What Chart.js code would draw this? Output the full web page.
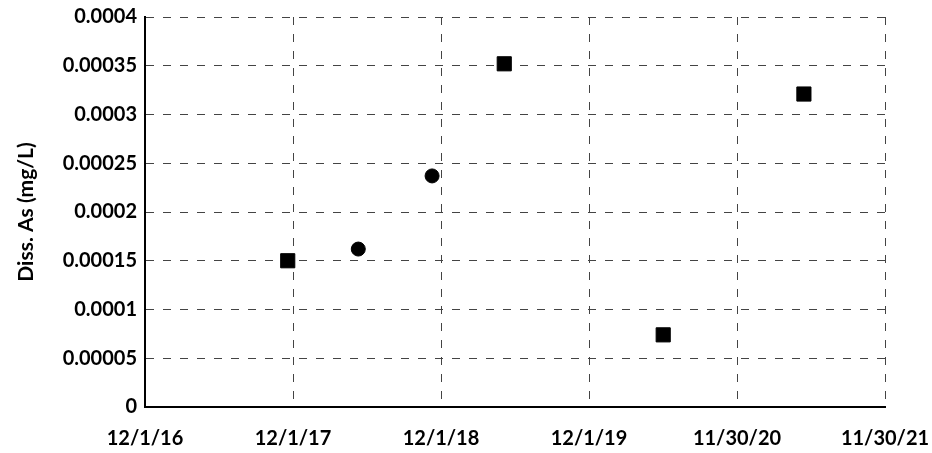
<!DOCTYPE html>
<html>
<head>
<meta charset="utf-8">
<script src="https://cdn.jsdelivr.net/npm/chart.js@4"></script>
<style>
  html, body { margin: 0; padding: 0; background: #fff; }
  #wrap { width: 932px; height: 453px; }
</style>
</head>
<body>
<div id="wrap"><canvas id="asChart"></canvas></div>
<script>
// sample dates and dissolved arsenic (mg/L)
const squareDates = ['2017-11-18', '2019-05-06', '2020-06-01', '2021-05-14']
const squareValues = [0.00015, 0.000352, 0.000074, 0.000321]
const circleDates = ['2018-05-11', '2018-11-09']
const circleValues = [0.000162, 0.000237]
const startDate = '2016-12-01'
const xTickDays = [0, 365, 730, 1095, 1460, 1825]
const yTicks = [0, 0.00005, 0.0001, 0.00015, 0.0002, 0.00025, 0.0003, 0.00035, 0.0004]

const DAY = 86400000
const t0 = Date.parse(startDate)
const toDays = d => Math.round((Date.parse(d) - t0) / DAY)

const fmtDate = days => {
  const d = new Date(t0 + days * DAY)
  return (d.getUTCMonth() + 1) + '/' + d.getUTCDate() + '/' + String(d.getUTCFullYear()).slice(2)
}

const squares = squareDates.map((d, i) => ({ x: toDays(d), y: squareValues[i] }))
const circles = circleDates.map((d, i) => ({ x: toDays(d), y: circleValues[i] }))

const tickFont = { family: 'Lato', size: 20, weight: 'bold' }
const gridStyle = {
  color: '#444',
  lineWidth: 1,
  drawTicks: false
}

new Chart(document.getElementById('asChart'), {
  type: 'scatter',
  data: {
    datasets: [
      {
        label: 'Squares',
        data: squares,
        pointStyle: 'rect',
        pointRadius: 10,
        pointHoverRadius: 10,
        backgroundColor: '#000',
        borderColor: '#000'
      },
      {
        label: 'Circles',
        data: circles,
        pointStyle: 'circle',
        pointRadius: 7,
        pointHoverRadius: 7,
        backgroundColor: '#000',
        borderColor: '#000'
      }
    ]
  },
  options: {
    responsive: true,
    maintainAspectRatio: false,
    animation: false,
    layout: { padding: { left: 14, right: 47, top: 17, bottom: 0 } },
    plugins: {
      legend: { display: false },
      tooltip: { enabled: false }
    },
    scales: {
      x: {
        type: 'linear',
        min: 0,
        max: 1825,
        afterBuildTicks: s => { s.ticks = xTickDays.map(v => ({ value: v })) },
        ticks: {
          callback: v => fmtDate(v),
          font: tickFont,
          color: '#000',
          padding: 20,
          maxRotation: 0
        },
        grid: gridStyle,
        border: { display: true, color: '#000', width: 2, dash: [8, 9] },
        afterFit: s => {
          s.height = 46
          s.paddingLeft = 0
          s.paddingRight = 0
        }
      },
      y: {
        min: 0,
        max: 0.0004,
        afterBuildTicks: s => { s.ticks = yTicks.map(v => ({ value: v })) },
        ticks: {
          callback: v => String(v),
          font: tickFont,
          color: '#000',
          padding: 8
        },
        grid: gridStyle,
        border: { display: true, color: '#000', width: 2, dash: [8, 9] },
        title: {
          display: true,
          text: 'Diss. As (mg/L)',
          font: { family: 'Lato', size: 21, weight: 'bold' },
          color: '#000',
          padding: 0
        },
        afterFit: s => {
          s.width = 131
          s.paddingTop = 0
          s.paddingBottom = 0
        }
      }
    }
  }
})
</script>
</body>
</html>
